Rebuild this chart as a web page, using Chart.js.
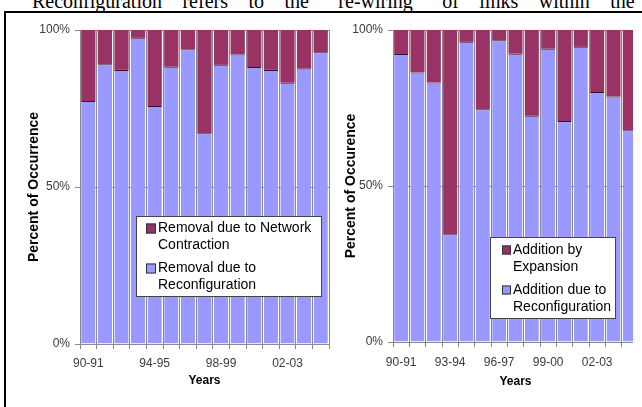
<!DOCTYPE html>
<html>
<head>
<meta charset="utf-8">
<script src="https://cdn.jsdelivr.net/npm/chart.js@4/dist/chart.umd.min.js"></script>
<style>
  html, body { margin: 0; padding: 0; background: #fff; }
  body { position: relative; width: 642px; height: 407px; overflow: hidden; }
  #lead {
    position: absolute; left: 32px; top: -9px;
    font: 20px "Liberation Serif", "Times New Roman", serif;
    line-height: 20px; white-space: nowrap; word-spacing: 15.5px; color: #000;
  }
  #frame {
    position: absolute; left: 4px; top: 11px; width: 700px; height: 500px;
    border-top: 2px solid #000; border-left: 2px solid #000;
  }
  #leftChart { position: absolute; left: 8px; top: 14px; }
  #rightWrap { position: absolute; left: 332px; top: 14px; width: 301px; height: 392px; overflow: hidden; }
</style>
</head>
<body>
<div id="lead">Reconfiguration refers to the “re-wiring” of links within the</div>
<div id="frame"></div>
<canvas id="leftChart" width="322" height="392"></canvas>
<div id="rightWrap"><canvas id="rightChart" width="310" height="392"></canvas></div>

<script>
// Fiscal years on the category axis
const years = ['90-91', '91-92', '92-93', '93-94', '94-95', '95-96', '96-97', '97-98',
               '98-99', '99-00', '00-01', '01-02', '02-03', '03-04', '04-05'];

// Link removals (percent of occurrence)
const removalReconfiguration = [77.4, 89.1, 87.3, 97.5, 75.8, 88.3, 93.9, 67.1, 88.9, 92.2, 88.2, 87.3, 83.2, 87.7, 92.9];
const removalContraction     = [22.6, 10.9, 12.7,  2.5, 24.2, 11.7,  6.1, 32.9, 11.1,  7.8, 11.8, 12.7, 16.8, 12.3,  7.1];

// Link additions (percent of occurrence)
const additionReconfiguration = [92.3, 86.4, 83.2, 34.5, 96.2, 74.6, 96.7, 92.4, 72.5, 94.0, 70.8, 94.6, 80.1, 78.7, 67.9];
const additionExpansion       = [ 7.7, 13.6, 16.8, 65.5,  3.8, 25.4,  3.3,  7.6, 27.5,  6.0, 29.2,  5.4, 19.9, 21.3, 32.1];

const yTicks = [0, 50, 100];

const BLUE = '#9999ff';
const MAROON = '#993366';
const GRID = '#8a8a8a';
const FONT = '"Liberation Sans", Arial, sans-serif';

Chart.defaults.font.family = FONT;
Chart.defaults.color = '#333';

// Boxed legend drawn over the bars, with word-wrapped entries (top series first)
const boxLegend = {
  id: 'boxLegend',
  afterDatasetsDraw(chart, args, o) {
    const ctx = chart.ctx;
    ctx.save();
    ctx.fillStyle = '#fff';
    ctx.fillRect(o.x, o.y, o.w, o.h);
    ctx.strokeStyle = '#444';
    ctx.lineWidth = 1;
    ctx.strokeRect(o.x + 0.5, o.y + 0.5, o.w - 1, o.h - 1);
    ctx.font = o.font;
    ctx.textBaseline = 'middle';
    ctx.textAlign = 'left';
    let y = o.firstLine;
    chart.data.datasets.slice().reverse().forEach(ds => {
      const words = ds.label.split(' ');
      const lines = [];
      let cur = '';
      words.forEach(w => {
        const t = cur ? cur + ' ' + w : w;
        if (cur && ctx.measureText(t).width > o.wrap) { lines.push(cur); cur = w; }
        else cur = t;
      });
      lines.push(cur);
      ctx.fillStyle = ds.backgroundColor;
      ctx.fillRect(o.boxX, y - o.box / 2, o.box, o.box);
      ctx.strokeStyle = '#333';
      ctx.strokeRect(o.boxX + 0.5, y - o.box / 2 + 0.5, o.box - 1, o.box - 1);
      ctx.fillStyle = '#000';
      lines.forEach((ln, j) => ctx.fillText(ln, o.textX, y + j * o.lineGap));
      y += (lines.length - 1) * o.lineGap + o.itemGap;
    });
    ctx.restore();
  }
};

function makeChart(id, lowLabel, low, highLabel, high, yTitle, s) {
  return new Chart(document.getElementById(id), {
    type: 'bar',
    data: {
      labels: years,
      datasets: [
        { label: lowLabel, data: low, backgroundColor: BLUE,
          borderColor: '#3a1030', borderWidth: { top: 1, left: 0, right: 0, bottom: 0 },
          borderSkipped: false, categoryPercentage: 1, barPercentage: 0.86 },
        { label: highLabel, data: high, backgroundColor: MAROON,
          borderWidth: 0, categoryPercentage: 1, barPercentage: 0.86 }
      ]
    },
    options: {
      responsive: false,
      animation: false,
      layout: { padding: { top: 16, right: s.padRight, left: 0, bottom: 0 } },
      plugins: {
        legend: { display: false },
        tooltip: { enabled: false },
        boxLegend: s.legend
      },
      scales: {
        x: {
          stacked: true,
          offset: true,
          afterFit: sc => { sc.height = s.xHeight; },
          grid: { display: true, offset: true, color: GRID, lineWidth: 1, tickLength: 5, drawTicks: true },
          border: { display: true, color: GRID, width: 1 },
          ticks: {
            autoSkip: false, maxRotation: 0, minRotation: 0, padding: s.xTickPad,
            color: '#3a3a3a', font: { size: 12 },
            callback: (v, i) => (i % s.every === 0 ? years[i] : '')
          },
          title: { display: true, text: 'Years', color: '#000',
                   font: { size: 12, weight: 'bold' }, padding: { top: 0, bottom: s.xTitlePad } }
        },
        y: {
          stacked: true,
          min: 0, max: 100,
          afterFit: sc => { sc.width = s.yWidth; },
          afterBuildTicks: sc => { sc.ticks = yTicks.map(v => ({ value: v })); },
          grid: { color: GRID, lineWidth: 1, tickLength: 5 },
          border: { display: true, color: GRID, width: 1 },
          ticks: { padding: 5, color: '#3a3a3a', font: { size: 12 }, callback: v => v + '%' },
          title: { display: true, text: yTitle, color: '#000',
                   font: { size: 14, weight: 'bold' }, padding: { top: s.yTitlePad, bottom: 0 } }
        }
      }
    },
    plugins: [boxLegend]
  });
}

makeChart('leftChart',
  'Removal due to Reconfiguration', removalReconfiguration,
  'Removal due to Network Contraction', removalContraction,
  'Percent of Occurrence',
  { padRight: 1, xHeight: 62, yWidth: 72, xTickPad: 7, xTitlePad: 18, yTitlePad: 18.1, every: 4,
    legend: { x: 128, y: 202, w: 186, h: 81, boxX: 138, box: 10, textX: 150, wrap: 160,
              firstLine: 214.5, lineGap: 16.7, itemGap: 23.3, font: '14px ' + FONT } });

makeChart('rightChart',
  'Addition due to Reconfiguration', additionReconfiguration,
  'Addition by Expansion', additionExpansion,
  'Percent of Occurence',
  { padRight: 4, xHeight: 64, yWidth: 61, xTickPad: 8, xTitlePad: 17, yTitlePad: 10.6, every: 3,
    legend: { x: 158, y: 223, w: 126, h: 82, boxX: 170, box: 9, textX: 181, wrap: 100,
              firstLine: 236, lineGap: 16.7, itemGap: 23.3, font: '14px ' + FONT } });
</script>
</body>
</html>
